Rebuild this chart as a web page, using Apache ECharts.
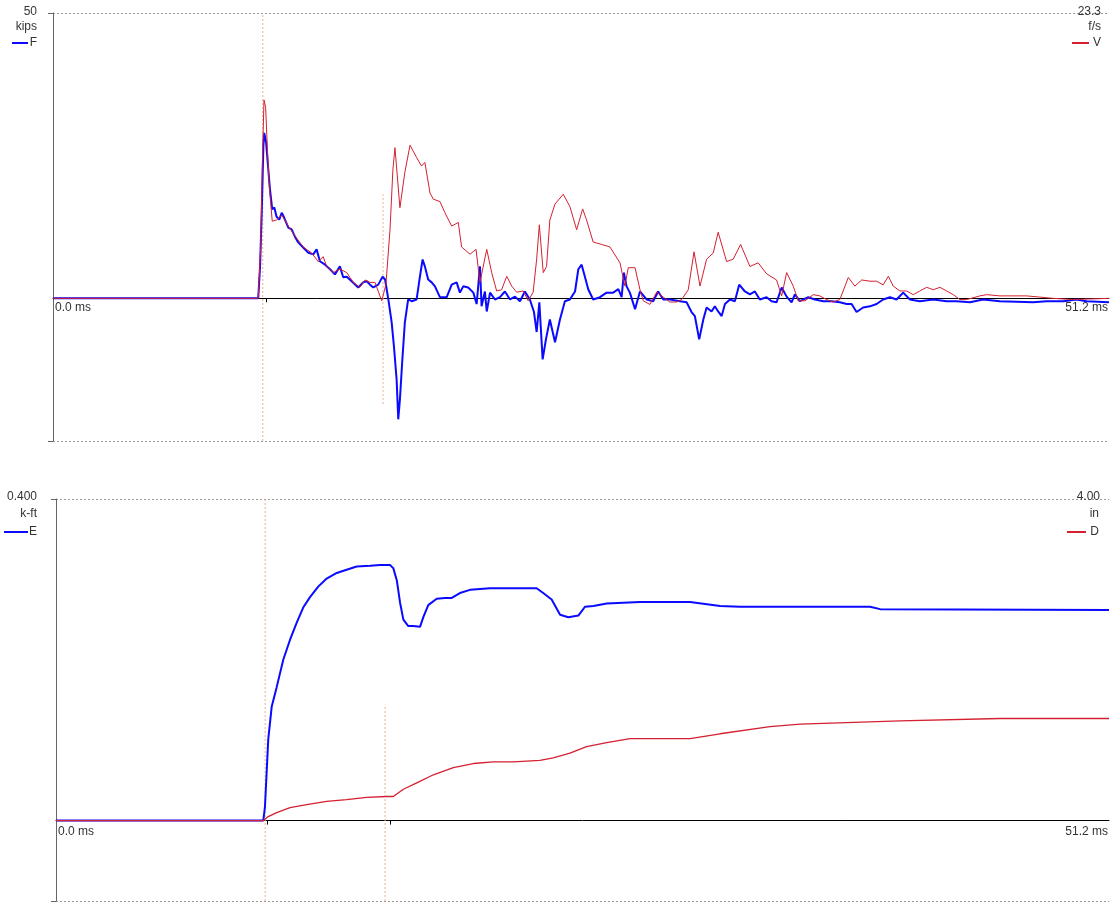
<!DOCTYPE html>
<html>
<head>
<meta charset="utf-8">
<script src="https://cdn.jsdelivr.net/npm/echarts@6/dist/echarts.min.js"></script>
<style>
html, body { margin: 0; padding: 0; background: #fff; }
#chart { width: 1110px; height: 904px; }
</style>
</head>
<body>
<div id="chart"></div>
<script>
// Time base (ms) and its end labels
const timeRange = [0, 51.2];
const timeLabels = ['0.0 ms', '51.2 ms'];

// Force F (kips) versus time (ms)
const forceF = [
  [0,0],[9.95,0],[10.04,5.6],[10.12,15.0],[10.20,26.6],[10.24,29.0],[10.33,27.4],[10.41,23.8],[10.52,19.1],
  [10.63,15.6],[10.73,15.9],[10.84,14.3],[10.97,13.8],[11.09,15.0],[11.20,14.2],[11.41,12.4],[11.57,12.1],
  [11.73,10.8],[11.89,9.8],[12.13,8.9],[12.38,8.0],[12.62,7.7],[12.78,8.6],[12.94,6.5],[13.19,5.9],[13.43,5.1],
  [13.67,4.2],[13.91,5.6],[14.07,3.7],[14.24,3.8],[14.48,3.0],[14.80,1.9],[15.04,2.8],[15.21,3.0],[15.37,2.4],
  [15.53,1.9],[15.77,2.4],[15.98,3.8],[16.10,3.3],[16.26,-0.2],[16.42,-4.2],[16.53,-8.4],[16.66,-14.2],
  [16.74,-21.2],[16.82,-17.7],[16.93,-11.2],[17.06,-4.2],[17.22,-0.2],[17.39,-0.5],[17.63,-0.2],[17.79,3.8],
  [17.92,6.8],[18.03,5.6],[18.19,3.3],[18.36,2.8],[18.52,2.1],[18.76,0.2],[19.09,0.2],[19.33,2.4],[19.57,2.8],
  [19.73,1.0],[19.89,2.1],[20.13,1.9],[20.38,1.0],[20.54,-1.0],[20.70,5.6],[20.78,-1.4],[20.94,1.2],[21.03,-2.3],
  [21.19,1.0],[21.43,-0.2],[21.67,0.2],[21.91,1.2],[22.16,-0.2],[22.40,0.3],[22.64,-0.5],[22.88,1.2],[23.12,-0.2],
  [23.32,-2.4],[23.45,-5.9],[23.58,-0.7],[23.74,-10.7],[23.90,-7.2],[24.09,-3.7],[24.34,-7.7],[24.58,-3.7],
  [24.82,-0.5],[25.06,-0.2],[25.31,1.2],[25.47,5.1],[25.63,5.9],[25.79,3.8],[25.95,1.6],[26.19,-0.2],[26.52,0.2],
  [26.84,1.0],[27.16,1.0],[27.41,1.6],[27.57,0.2],[27.68,4.5],[27.81,2.1],[27.97,1.0],[28.22,-1.9],[28.46,1.2],
  [28.78,-0.2],[29.10,-0.5],[29.34,1.2],[29.59,-0.2],[29.91,-0.2],[30.40,-0.5],[30.72,-0.7],[30.96,-2.4],
  [31.12,-3.1],[31.33,-7.2],[31.53,-3.7],[31.69,-1.6],[31.93,-2.3],[32.09,-1.4],[32.25,-2.3],[32.42,-3.1],
  [32.58,-1.0],[32.82,-0.2],[33.06,-0.5],[33.27,2.4],[33.55,1.2],[33.79,0.7],[34.03,1.2],[34.27,-0.2],[34.60,0.2],
  [34.84,-0.5],[35.08,-0.7],[35.33,1.9],[35.57,0.3],[35.81,-0.7],[35.97,0.7],[36.21,-0.5],[36.62,0.2],[36.94,-0.2],
  [37.34,-0.5],[37.75,-0.5],[38.15,-0.7],[38.48,-1.0],[38.72,-1.0],[38.96,-2.4],[39.28,-1.6],[39.61,-1.4],
  [39.93,-1.0],[40.25,-0.2],[40.58,0.2],[40.90,-0.2],[41.22,1.0],[41.55,-0.2],[42.03,-0.5],[42.68,-0.2],
  [43.33,-0.5],[43.81,-0.5],[44.46,-0.7],[45.10,-0.2],[45.91,-0.5],[47.52,-0.7],[48.17,-0.5],[48.98,-0.5],
  [49.63,-0.2],[50.11,-0.5],[51.2,-0.7]
];

// Velocity V (f/s) versus time (ms)
const velocityV = [
  [0,0],[9.95,0],[10.07,4.2],[10.15,11.1],[10.23,16.2],[10.31,15.6],[10.39,12.4],[10.49,9.1],[10.63,6.3],
  [10.84,6.4],[11.09,6.8],[11.41,5.9],[11.73,5.1],[12.13,4.2],[12.54,3.7],[12.86,3.0],[13.10,3.4],[13.27,2.6],
  [13.59,2.1],[13.91,2.4],[14.24,2.1],[14.56,1.3],[14.88,0.9],[15.13,1.5],[15.37,1.3],[15.61,1.3],[15.85,0.2],
  [15.94,-0.2],[16.14,1.1],[16.34,5.6],[16.48,10.5],[16.58,12.3],[16.82,7.4],[17.06,10.3],[17.31,12.5],
  [17.63,11.5],[17.87,10.8],[18.03,11.1],[18.28,8.6],[18.44,8.1],[18.76,7.9],[19.00,7.0],[19.33,5.9],[19.65,6.2],
  [19.81,4.2],[20.22,3.6],[20.51,4.0],[20.70,1.3],[21.03,4.0],[21.27,2.1],[21.51,0.6],[21.75,0.7],[22.00,1.8],
  [22.24,1.0],[22.48,0.5],[22.80,0.6],[23.04,-0.2],[23.28,0.5],[23.45,3.2],[23.58,6.0],[23.77,2.1],[23.93,2.6],
  [24.09,6.4],[24.34,7.7],[24.74,8.5],[25.06,7.5],[25.39,5.6],[25.68,7.3],[25.87,6.4],[26.19,4.6],[26.60,4.4],
  [27.00,4.2],[27.49,2.9],[27.73,1.0],[27.89,2.5],[28.22,2.5],[28.46,0.7],[28.62,-0.2],[28.94,-0.5],[29.27,0.5],
  [29.59,0.1],[29.91,-0.3],[30.24,-0.3],[30.48,-0.1],[30.80,0.7],[31.08,3.8],[31.37,1.0],[31.69,3.2],[32.01,3.7],
  [32.25,5.4],[32.66,3.0],[32.98,3.2],[33.34,4.4],[33.79,2.6],[34.19,2.9],[34.60,2.0],[35.08,1.5],[35.33,0.2],
  [35.57,2.1],[35.89,1.0],[36.13,-0.2],[36.46,-0.2],[36.86,0.3],[37.18,0.2],[37.51,-0.1],[37.83,-0.3],[38.15,-0.1],
  [38.56,1.7],[38.88,1.0],[39.21,1.5],[39.61,1.4],[39.93,1.4],[40.25,1.1],[40.50,1.8],[40.74,1.0],[41.06,0.6],
  [41.39,0.6],[41.71,0.3],[42.03,0.6],[42.36,0.9],[42.68,0.7],[43.00,0.9],[43.33,0.6],[43.65,0.3],[43.97,-0.1],
  [44.30,-0.1],[44.94,0.2],[45.27,0.3],[45.91,0.2],[47.20,0.2],[47.85,0.1],[48.48,0],[49.45,-0.1],[51.2,0]
];

// Energy E (k-ft) versus time (ms)
const energyE = [
  [0,0],[10.08,0],[10.16,0.017],[10.32,0.101],[10.49,0.142],[10.73,0.166],[11.05,0.200],[11.38,0.225],
  [11.70,0.246],[12.02,0.265],[12.35,0.278],[12.75,0.291],[13.16,0.301],[13.65,0.308],[14.13,0.312],[14.62,0.316],
  [15.27,0.317],[15.75,0.318],[16.24,0.318],[16.40,0.314],[16.57,0.299],[16.73,0.271],[16.89,0.250],[17.13,0.242],
  [17.37,0.242],[17.70,0.241],[17.86,0.253],[18.10,0.268],[18.51,0.276],[18.91,0.277],[19.24,0.277],[19.64,0.283],
  [20.13,0.287],[20.62,0.288],[21.10,0.289],[23.37,0.289],[23.69,0.283],[24.10,0.275],[24.51,0.256],[24.91,0.253],
  [25.40,0.255],[25.72,0.266],[26.13,0.267],[26.78,0.270],[27.58,0.271],[28.40,0.272],[30.83,0.272],[32.29,0.267],
  [33.26,0.266],[39.58,0.266],[40.07,0.263],[51.2,0.262]
];

// Displacement D (in) versus time (ms)
const displacementD = [
  [0,0],[10.08,0],[10.32,0.05],[10.73,0.10],[11.38,0.16],[12.19,0.20],[13.16,0.24],[14.13,0.26],[15.11,0.29],
  [16.08,0.30],[16.40,0.30],[16.89,0.39],[17.54,0.47],[18.35,0.57],[19.32,0.66],[20.29,0.71],[21.26,0.73],
  [22.24,0.73],[23.53,0.75],[24.18,0.78],[24.99,0.84],[25.80,0.92],[26.78,0.97],[27.91,1.02],[30.83,1.02],
  [32.29,1.08],[34.72,1.17],[36.18,1.20],[41.04,1.24],[45.90,1.27],[51.2,1.27]
];

// Time markers (impact, 2L/c) and their vertical extents in each panel
const markerTimes = [10.17, 16.0];
const topMarkerSpans = [[-25, 50], [-18.5, 18.2]];
const bottomMarkerSpans = [[-0.1, 0.4], [-0.1, 0.144]];
const zeroTicksTop = [10.33];
const zeroTicksBottom = [10.29, 16.24];

// Axis scales
const forceScale = { min: -25, max: 50, step: 12.5 };
const velocityScale = { min: -11.65, max: 23.3 };
const energyScale = { min: -0.1, max: 0.4, step: 0.1 };
const dispScale = { min: -1, max: 4 };

// Panel header texts: top value, unit, trace name
const topLeftText = ['50', 'kips', 'F'];
const topRightText = ['23.3', 'f/s', 'V'];
const bottomLeftText = ['0.400', 'k-ft', 'E'];
const bottomRightText = ['4.00', 'in', 'D'];

const FONT = '"Liberation Sans", Arial, sans-serif';
const BLUE = '#0a0aff';
const RED = '#d42030';
const MARK = '#e6b096';
const TEXT = '#333';

const chart = echarts.init(document.getElementById('chart'), null, { renderer: 'canvas' });

function xAxisFor(grid, ticks) {
  return {
    gridIndex: grid, type: 'value', min: timeRange[0], max: timeRange[1],
    axisLine: { show: true, onZero: true, lineStyle: { color: '#000', width: 1 } },
    axisTick: { show: true, customValues: ticks, length: 4, inside: false, lineStyle: { color: '#000' } },
    axisLabel: { show: false },
    splitLine: { show: false }
  };
}

function leftAxisFor(grid, sc) {
  return {
    gridIndex: grid, type: 'value', position: 'left',
    min: sc.min, max: sc.max, interval: sc.step,
    axisLine: { show: true, onZero: false, lineStyle: { color: '#666', width: 1 } },
    axisTick: { show: true, customValues: [sc.min, sc.max], length: 5, lineStyle: { color: '#666' } },
    axisLabel: { show: false },
    splitLine: { show: true, showMinLine: true, showMaxLine: true, lineStyle: { color: '#9a9a9a', type: [2, 2], width: 1 } }
  };
}

function hiddenAxisFor(grid, sc) {
  return { gridIndex: grid, type: 'value', position: 'right', min: sc.min, max: sc.max, show: false, splitLine: { show: false } };
}

function trace(name, xi, yi, data, color, width, z) {
  return {
    name, type: 'line', xAxisIndex: xi, yAxisIndex: yi, data,
    showSymbol: false, symbol: 'none', smooth: false, animation: false, silent: true, z,
    lineStyle: { color, width }
  };
}

function marker(xi, yi, t, span) {
  return {
    type: 'line', xAxisIndex: xi, yAxisIndex: yi, data: [[t, span[0]], [t, span[1]]],
    symbol: 'none', animation: false, silent: true, z: 1,
    lineStyle: { color: MARK, width: 1, type: [2, 2] }
  };
}

function headerText(x, y, text, align) {
  return { type: 'text', silent: true, style: { text, x, y, textAlign: align, textVerticalAlign: 'middle', font: '12px ' + FONT, fill: TEXT } };
}
function legendLine(x1, x2, y, color) {
  return { type: 'line', silent: true, shape: { x1, y1: y, x2, y2: y }, style: { stroke: color, lineWidth: 2 } };
}

const option = {
  backgroundColor: '#fff',
  animation: false,
  grid: [
    { left: 53, top: 13, width: 1056, height: 428, outerBoundsMode: 'none', containLabel: false },
    { left: 56, top: 499, width: 1053, height: 402, outerBoundsMode: 'none', containLabel: false }
  ],
  xAxis: [xAxisFor(0, zeroTicksTop), xAxisFor(1, zeroTicksBottom)],
  yAxis: [
    leftAxisFor(0, forceScale), hiddenAxisFor(0, velocityScale),
    leftAxisFor(1, energyScale), hiddenAxisFor(1, dispScale)
  ],
  series: [
    marker(0, 0, markerTimes[0], topMarkerSpans[0]),
    marker(0, 0, markerTimes[1], topMarkerSpans[1]),
    marker(1, 2, markerTimes[0], bottomMarkerSpans[0]),
    marker(1, 2, markerTimes[1], bottomMarkerSpans[1]),
    trace('F', 0, 0, forceF, BLUE, 2, 3),
    trace('V', 0, 1, velocityV, RED, 1, 4),
    trace('E', 1, 2, energyE, BLUE, 2, 3),
    trace('D', 1, 3, displacementD, RED, 1.3, 4)
  ]
};

chart.setOption(option);

// Time labels sit just under each panel's zero line, at both ends of the time axis
function timeLabelGraphics(gridIndex, dy) {
  const a = chart.convertToPixel({ gridIndex }, [timeRange[0], 0]);
  const b = chart.convertToPixel({ gridIndex }, [timeRange[1], 0]);
  return [
    headerText(a[0] + 2, a[1] + dy, timeLabels[0], 'left'),
    headerText(b[0] - 1, b[1] + dy, timeLabels[1], 'right')
  ];
}

chart.setOption({
  graphic: [
    headerText(37, 12, topLeftText[0], 'right'),
    headerText(37, 27, topLeftText[1], 'right'),
    legendLine(12, 28, 43, BLUE),
    headerText(37, 43, topLeftText[2], 'right'),
    headerText(1101, 12, topRightText[0], 'right'),
    headerText(1101, 27, topRightText[1], 'right'),
    legendLine(1072, 1089, 43, RED),
    headerText(1101, 43, topRightText[2], 'right'),
    headerText(37, 497, bottomLeftText[0], 'right'),
    headerText(37, 514, bottomLeftText[1], 'right'),
    legendLine(4, 28, 532, BLUE),
    headerText(37, 532, bottomLeftText[2], 'right'),
    headerText(1100, 497, bottomRightText[0], 'right'),
    headerText(1099, 514, bottomRightText[1], 'right'),
    legendLine(1067, 1086, 532, RED),
    headerText(1099, 532, bottomRightText[2], 'right')
  ].concat(timeLabelGraphics(0, 9), timeLabelGraphics(1, 11))
});
</script>
</body>
</html>
